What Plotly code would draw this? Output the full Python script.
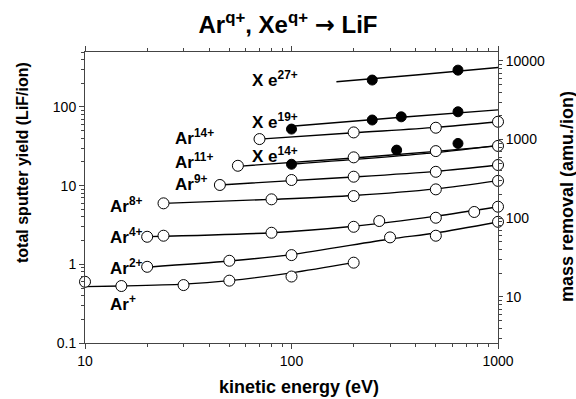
import plotly.graph_objects as go
import math

# ---------------- data ----------------
LIF_MASS = 25.94  # amu per LiF molecule (right axis = mass removal)

# Ar ions: measured points (open circles)
ar1_e = [10, 15, 30, 50, 100, 200]
ar1_y = [0.60, 0.53, 0.545, 0.62, 0.70, 1.05]
ar2_e = [20, 50, 100, 300, 500, 1000]
ar2_y = [0.93, 1.11, 1.31, 2.2, 2.31, 3.47]
ar4_e = [20, 24, 80, 200, 266, 500, 767, 1000]
ar4_y = [2.24, 2.31, 2.52, 3.0, 3.55, 3.91, 4.63, 5.4]
ar8_e = [24, 80, 200, 500, 1000]
ar8_y = [5.96, 6.7, 7.38, 8.97, 11.5]
ar9_e = [45, 100, 200, 500, 1000]
ar9_y = [10.2, 11.8, 13.0, 15.0, 18.3]
ar11_e = [55, 200, 500, 1000]
ar11_y = [17.9, 22.9, 27.5, 32.0]
ar14_e = [70, 200, 500, 1000]
ar14_y = [39.1, 47.5, 54.5, 64.9]

# Xe ions: measured points (filled circles)
xe14_e = [100, 323, 640]
xe14_y = [18.7, 28.3, 34.4]
xe19_e = [100, 246, 340, 640]
xe19_y = [52.4, 68.3, 75.0, 86.9]
xe27_e = [246, 640]
xe27_y = [220, 294]

# fitted curves
fit_ar1_e = [10, 15, 30, 50, 100, 200]
fit_ar1_y = [0.52, 0.53, 0.56, 0.62, 0.78, 1.05]
fit_ar2_e = [20, 50, 100, 300, 500, 1000]
fit_ar2_y = [0.92, 1.1, 1.33, 2.1, 2.5, 3.45]
fit_ar4_e = [20, 80, 200, 500, 1000]
fit_ar4_y = [2.25, 2.52, 3.05, 4.1, 5.4]
fit_ar8_e = [24, 80, 200, 500, 1000]
fit_ar8_y = [5.95, 6.7, 7.5, 9.1, 11.6]
fit_ar9_e = [45, 100, 200, 500, 1000]
fit_ar9_y = [10.2, 11.6, 12.9, 15.2, 18.3]
fit_ar11_e = [55, 200, 500, 1000]
fit_ar11_y = [17.6, 22.5, 27.3, 32.0]
fit_ar14_e = [70, 200, 500, 1000]
fit_ar14_y = [39, 47, 55, 65]
fit_xe14_e = [100, 500, 1000]
fit_xe14_y = [18.7, 26.3, 32.5]
fit_xe19_e = [100, 340, 1000]
fit_xe19_y = [57, 74, 92]
fit_xe27_e = [165, 400, 1000]
fit_xe27_y = [209, 255, 318]

# series labels: (text, label energy, label yield)
labels = [
    ("Ar<sup>+</sup>", 12.9, 0.32),
    ("Ar<sup>2+</sup>", 12.9, 0.925),
    ("Ar<sup>4+</sup>", 12.9, 2.29),
    ("Ar<sup>8+</sup>", 12.9, 5.66),
    ("Ar<sup>9+</sup>", 26.7, 10.8),
    ("Ar<sup>11+</sup>", 26.7, 20.6),
    ("Ar<sup>14+</sup>", 26.7, 41.5),
    ("X e<sup>14+</sup>", 63, 24.5),
    ("X e<sup>19+</sup>", 63, 66),
    ("X e<sup>27+</sup>", 63, 226),
]

x_ticks = [10, 100, 1000]
y_ticks = [0.1, 1, 10, 100]
y2_ticks = [10, 100, 1000, 10000]

# ---------------- figure ----------------
FONT = "Liberation Sans, Arial, Helvetica, sans-serif"
AXC = "#444444"

fig = go.Figure()

fits = [
    (fit_ar1_e, fit_ar1_y), (fit_ar2_e, fit_ar2_y), (fit_ar4_e, fit_ar4_y),
    (fit_ar8_e, fit_ar8_y), (fit_ar9_e, fit_ar9_y), (fit_ar11_e, fit_ar11_y),
    (fit_ar14_e, fit_ar14_y), (fit_xe14_e, fit_xe14_y), (fit_xe19_e, fit_xe19_y),
    (fit_xe27_e, fit_xe27_y),
]
for fx, fy in fits:
    fig.add_trace(go.Scatter(x=fx, y=fy, mode="lines",
                             line=dict(color="black", width=1.4, shape="spline", smoothing=0.8),
                             showlegend=False, hoverinfo="skip"))

ar_sets = [(ar1_e, ar1_y), (ar2_e, ar2_y), (ar4_e, ar4_y), (ar8_e, ar8_y),
           (ar9_e, ar9_y), (ar11_e, ar11_y), (ar14_e, ar14_y)]
for ex, ey in ar_sets:
    fig.add_trace(go.Scatter(x=ex, y=ey, mode="markers", cliponaxis=False,
                             marker=dict(symbol="circle", size=11, color="white",
                                         line=dict(color="black", width=1)),
                             showlegend=False))

xe_sets = [(xe14_e, xe14_y), (xe19_e, xe19_y), (xe27_e, xe27_y)]
for ex, ey in xe_sets:
    fig.add_trace(go.Scatter(x=ex, y=ey, mode="markers", cliponaxis=False,
                             marker=dict(symbol="circle", size=10, color="black",
                                         line=dict(color="black", width=1)),
                             showlegend=False))

# mass-removal axis companion trace (invisible, same data scaled by LiF mass)
fig.add_trace(go.Scatter(x=ar14_e, y=[v * LIF_MASS for v in ar14_y], yaxis="y2",
                         mode="markers", marker=dict(opacity=0), showlegend=False,
                         hoverinfo="skip"))

def minor_vals(lo_dec, hi_dec, hi_lim):
    vals = []
    for d in range(lo_dec, hi_dec + 1):
        for m in range(2, 10):
            v = m * 10 ** d
            if v <= hi_lim:
                vals.append(v)
    return vals

ymax = 500
axis_common = dict(type="log", showgrid=False, zeroline=False, showline=True,
                   linecolor=AXC, linewidth=1, ticks="outside", tickcolor=AXC,
                   tickwidth=1, ticklen=5,
                   tickfont=dict(family=FONT, size=14, color="black"))

fig.update_layout(
    width=576, height=399,
    margin=dict(l=85, r=78, t=52, b=56),
    paper_bgcolor="white", plot_bgcolor="white",
    font=dict(family=FONT, color="black"),
    title=dict(text="<b>Ar<sup>q+</sup>, Xe<sup>q+</sup> "
                    "<span style='font-family:DejaVu Sans'>→</span> LiF</b>",
               x=0.5, xanchor="center", y=1 - 25 / 399, yanchor="middle",
               yref="container",
               font=dict(family=FONT, size=24, color="black")),
    xaxis=dict(axis_common, range=[1, 3], tickvals=x_ticks,
               ticktext=[str(v) for v in x_ticks], mirror="ticks",
               minor=dict(ticks="outside", ticklen=3, tickcolor=AXC,
                          tickvals=minor_vals(1, 2, 1000))),
    yaxis=dict(axis_common, range=[-1, math.log10(ymax)], tickvals=y_ticks,
               ticktext=["0.1", "1", "10", "100"],
               minor=dict(ticks="outside", ticklen=3, tickcolor=AXC,
                          tickvals=minor_vals(-1, 2, ymax))),
    yaxis2=dict(axis_common, overlaying="y", side="right",
                range=[math.log10(0.1 * LIF_MASS), math.log10(ymax * LIF_MASS)],
                tickvals=y2_ticks, ticktext=[str(v) for v in y2_ticks],
                ticklen=4,
                minor=dict(ticks="outside", ticklen=3, tickcolor=AXC,
                           tickvals=minor_vals(0, 4, ymax * LIF_MASS))),
)

annots = []
for txt, le, ly in labels:
    annots.append(dict(x=math.log10(le), y=math.log10(ly), xref="x", yref="y",
                       text="<b>" + txt + "</b>", showarrow=False,
                       xanchor="left", yanchor="middle",
                       font=dict(family=FONT, size=17, color="black")))

annots.append(dict(x=(299 - 85) / 413, y=(343 - 387) / 291, xref="paper", yref="paper",
                   text="<b>kinetic energy (eV)</b>", showarrow=False,
                   xanchor="center", yanchor="middle",
                   font=dict(family=FONT, size=18, color="black")))
annots.append(dict(x=(22 - 85) / 413, y=(343 - 163) / 291, xref="paper", yref="paper",
                   text="<b>total sputter yield (LiF/ion)</b>", showarrow=False,
                   textangle=-90, xanchor="center", yanchor="middle",
                   font=dict(family=FONT, size=16, color="black")))
annots.append(dict(x=(567 - 85) / 413, y=(343 - 197) / 291, xref="paper", yref="paper",
                   text="<b>mass removal (amu./ion)</b>", showarrow=False,
                   textangle=-90, xanchor="center", yanchor="middle",
                   font=dict(family=FONT, size=18, color="black")))
fig.update_layout(annotations=annots)

fig.write_html("out.html")
